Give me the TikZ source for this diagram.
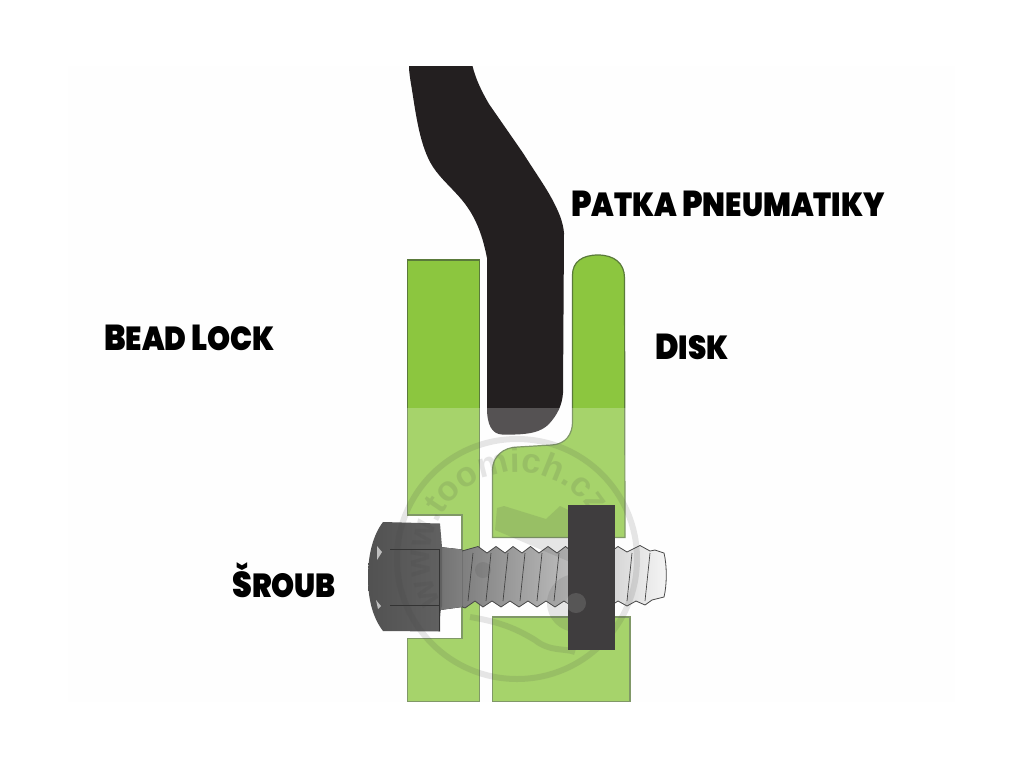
\documentclass[tikz,border=0pt]{standalone}
\usepackage{fontspec}
\setmainfont{Liberation Sans}
\newfontfamily\lab[UprightFont=* Black,FakeStretch=0.88]{Poppins}
\usetikzlibrary{decorations.text}
\definecolor{discgreen}{HTML}{8CC63F}
\definecolor{edgegreen}{HTML}{5A7A3A}
\definecolor{tyre}{HTML}{231F20}
\definecolor{nutgrey}{HTML}{3F3D3E}
\definecolor{paper}{HTML}{FEFEFE}
\newcommand{\bigc}[1]{{\fontsize{27}{27}\selectfont #1}}
\tikzset{
  plate/.style={fill=discgreen,draw=edgegreen,line width=0.9pt},
  caption/.style={anchor=base west,inner sep=0pt,text=black,font=\lab\fontsize{25}{25}\selectfont},
  boltline/.style={draw=black!75,line width=0.5pt},
}
\begin{document}
\begin{tikzpicture}[x=0.75pt,y=-0.75pt]
\useasboundingbox (0,0) rectangle (1024,768);
\fill[white] (0,0) rectangle (1024,768);
\fill[paper] (68,66) rectangle (955,702);
% tyre bead
\fill[tyre] (409,66) -- (472.5,66)
  .. controls (476,80) and (482,92) .. (489,104)
  -- (523,153)
  .. controls (535,172) and (545,186) .. (552,199)
  .. controls (559,212) and (563,222) .. (564,233)
  -- (563,393)
  .. controls (562,405) and (558,414) .. (549,424)
  .. controls (541,432) and (530,434) .. (515,434.5)
  -- (502,434.5)
  .. controls (492,434) and (487,425) .. (487,408)
  -- (487,258)
  .. controls (483,238) and (477,218) .. (462,200)
  .. controls (452,188) and (441,179) .. (433,167)
  .. controls (420,147) and (416,115) .. (412,90)
  .. controls (410,78) and (409,72) .. (409,66) -- cycle;
% bead lock ring
\path[plate] (407.5,260) -- (479.5,260) -- (479.5,701.5) -- (407.5,701.5)
  -- (407.5,638.5) -- (462,638.5) -- (462,515) -- (407.5,515) -- cycle;
% rim
\path[plate] (572.5,275)
  .. controls (572.5,262) and (582,255) .. (598,255)
  .. controls (614,255) and (624.5,263) .. (624.5,278)
  -- (625,537.5) -- (492.5,537.5) -- (492.5,470)
  .. controls (492.5,457) and (503,447) .. (518,447)
  -- (552,445)
  .. controls (566,444) and (572.5,434) .. (572.5,422) -- cycle;
\path[plate] (492.5,617) -- (630,617) -- (630,701.5) -- (492.5,701.5) -- cycle;
% pale veil over the lower part
\fill[white,opacity=0.23] (400,408) rectangle (640,703);
% bolt thread
\path[left color=black!52,right color=black!4,middle color=black!28,draw=black!72,line width=0.6pt]
  (455,550) -- (462,551) -- (478,546.5) -- (487,553) -- (496,546.5) -- (505,553) -- (513,546.5) -- (522,553)
  -- (530.5,546.5) -- (539,553) -- (548,546.5) -- (557,553) -- (565.5,546.5) -- (574,553)
  -- (583,546.5) -- (592,553) -- (600.5,546.5) -- (609,553) -- (618,546.5) -- (627,552)
  -- (640,545.5) -- (650,551) -- (655,550) -- (664,553)
  .. controls (667,565) and (667,585) .. (664,597)
  -- (652,600) -- (645,605) -- (636,601) -- (627,606) -- (618,601) -- (609,607)
  -- (600,601) -- (591,607) -- (582,601) -- (573,607) -- (564,601) -- (555,607)
  -- (546,601) -- (537,607) -- (528,601) -- (519,607) -- (510,601) -- (501,607)
  -- (492,601) -- (483,607) -- (475,601) -- (465,608) -- (455,604) -- cycle;
\foreach \tx in {470,488,505,522,539,556,629,647}
  \draw[boltline] (\tx+3,553) -- (\tx-2,601);
% bolt neck
\fill[left color=black!55,right color=black!50] (440,547) -- (462,549.5) -- (462,607) -- (440,610) -- cycle;
% bolt head
\path[left color=black!68,middle color=black!52,right color=black!62]
  (383,522) -- (440,523.5) -- (442,547) -- (442,606)
  .. controls (440,610) and (440,620) .. (440,631.5)
  -- (383,631) .. controls (373,618) and (368,600) .. (368,577)
  .. controls (368,555) and (373,535) .. (383,522) -- cycle;
\fill[black!25] (377,546) -- (382,552) -- (377,560) -- cycle;
\fill[black!25] (376,600) -- (381,606) -- (378,609) -- cycle;
\draw[black!80,line width=0.5pt] (390,549.5) -- (439,549.5) (390,605) -- (439,605) (439.5,549) -- (439.5,631);
% nut
\fill[nutgrey] (568,505) rectangle (615,650);
% watermark
\begin{scope}[opacity=0.13]
  \draw[black!75,line width=4.5pt] (517,559) circle [radius=120];
  \fill[black!75] (497,508) -- (504,506) -- (546,519) -- (560,506) -- (590,520) -- (610,521) -- (600,568) -- (570,562) -- (495,530) -- cycle;
  \fill[black!75] (576,603) circle [radius=29];
  \fill[white] (576,603) circle [radius=10];
  \fill[black!75] (483,570) circle [radius=8];
  \draw[black!75,line width=4.5pt] (470,617) .. controls (500,622) and (515,628) .. (535,640) .. controls (550,652) and (565,648) .. (575,652);
  \path[decorate,decoration={text along path,text align=center,
      text={|\bfseries\fontsize{26}{26}\selectfont\color{black!75}|www.toomich.cz}}]
     (450.4,614.9) arc[start angle=140,end angle=340,radius=87];
\end{scope}
% labels
\node[caption] (patka) at (571,216) {\bigc{P}ATKA \bigc{P}NEUMATIKY};
\node[caption] (bead) at (104,350) {\bigc{B}EAD \bigc{L}OCK};
\node[caption] (disk) at (655,359) {\bigc{D}ISK};
\node[caption] (sroub) at (232,597) {\bigc{Š}ROUB};
\end{tikzpicture}
\end{document}
